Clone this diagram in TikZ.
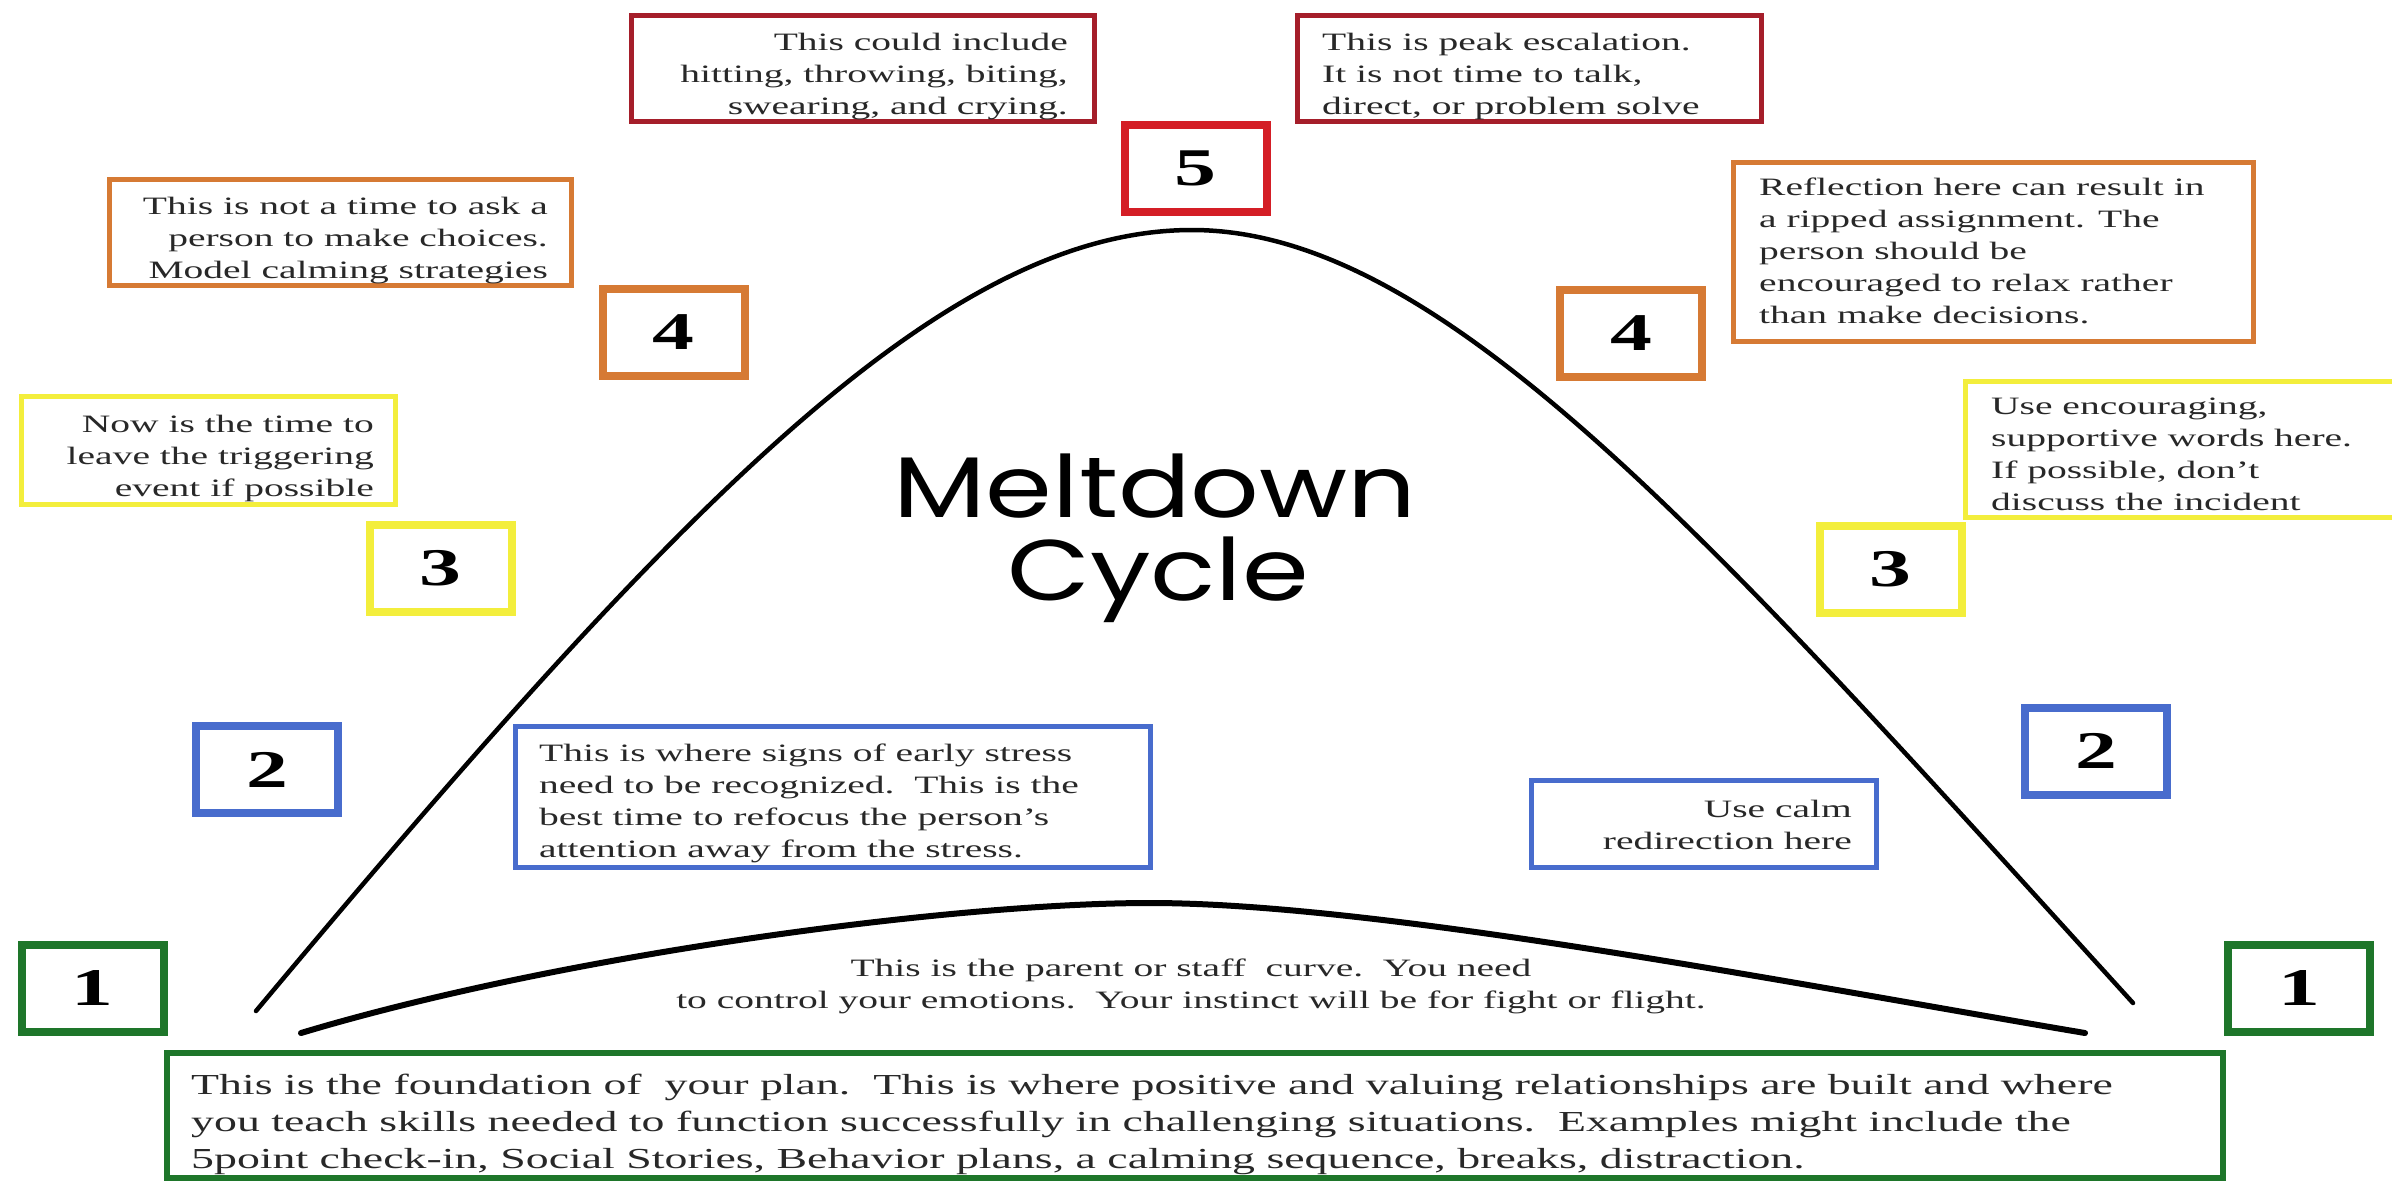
\documentclass[tikz,border=0pt]{standalone}
\usepackage{fontspec}
\setmainfont[FakeStretch=1.58]{Liberation Serif}
\newfontfamily\meltfont[FakeStretch=1.25]{Poppins}
\definecolor{cRed}{RGB}{165,30,42}
\definecolor{cRedB}{RGB}{212,30,38}
\definecolor{cOrange}{RGB}{214,122,52}
\definecolor{cYellow}{RGB}{243,238,60}
\definecolor{cBlue}{RGB}{72,108,205}
\definecolor{cGreen}{RGB}{30,118,42}
\definecolor{cText}{RGB}{40,40,40}
\tikzset{
  numbox/.style={draw=#1, line width=8pt, inner sep=0pt, minimum width=142pt,
    minimum height=87pt, font=\bfseries\fontsize{53}{53}\selectfont, text=black},
  txtbox/.style={draw=#1, line width=5.5pt, inner sep=0pt},
  note/.style={inner sep=0pt, text=cText, font=\fontsize{25}{32}\selectfont},
  bignote/.style={inner sep=0pt, text=cText, font=\fontsize{29}{37}\selectfont},
  melt/.style={inner sep=0pt, text=black, font=\meltfont\fontsize{86}{86}\selectfont},
  curve/.style={line width=4.5pt, line cap=round, black},
}
\begin{document}
\begin{tikzpicture}[x=1pt,y=-1pt]
\useasboundingbox (0,0) rectangle (2392,1181);
\fill[white] (0,0) rectangle (2392,1181);
\clip (0,0) rectangle (2392,1181);

% curves
\coordinate (bigL) at (256,1011);
\coordinate (bigTop) at (1192,230);
\coordinate (bigR) at (2133,1003);
\draw[curve] (bigL) .. controls (676,509) and (942,230) .. (bigTop)
  .. controls (1442,230) and (1713,541) .. (bigR);
\coordinate (smL) at (301,1033);
\coordinate (smTop) at (1150,903);
\coordinate (smR) at (2085,1033);
\draw[curve, line width=6pt] (smL) .. controls (560,955) and (950,903) .. (smTop)
  .. controls (1380,903) and (1800,985) .. (smR);

% title
\node[melt, anchor=base] (m1) at (1155,517) {Meltdown};
\node[melt, anchor=base] (m2) at (1158,600) {Cycle};

% number boxes
\node[numbox=cRedB]   (n5)  at (1195.5,168) {5};
\node[numbox=cOrange] (n4L) at (673.5,332.5) {4};
\node[numbox=cOrange] (n4R) at (1631,333) {4};
\node[numbox=cYellow] (n3L) at (440.5,568.5) {3};
\node[numbox=cYellow] (n3R) at (1890.5,569.5) {3};
\node[numbox=cBlue]   (n2L) at (267,769.5) {2};
\node[numbox=cBlue]   (n2R) at (2096,751) {2};
\node[numbox=cGreen]  (n1L) at (92.5,988) {1};
\node[numbox=cGreen]  (n1R) at (2299,988) {1};

% text boxes
\node[txtbox=cRed, minimum width=463pt, minimum height=106pt] (bRL) at (863,68.5) {};
\node[txtbox=cRed, minimum width=464pt, minimum height=106pt] (bRR) at (1529.5,68.5) {};
\node[txtbox=cOrange, minimum width=462pt, minimum height=106pt] (bOL) at (340.5,232.5) {};
\node[txtbox=cOrange, minimum width=520pt, minimum height=179pt] (bOR) at (1993.5,252) {};
\node[txtbox=cYellow, minimum width=374pt, minimum height=108pt] (bYL) at (208.5,450.5) {};
\node[txtbox=cYellow, minimum width=432pt, minimum height=136pt] (bYR) at (2181.5,449.5) {};
\node[txtbox=cBlue, minimum width=635pt, minimum height=141pt] (bBL) at (833,797) {};
\node[txtbox=cBlue, minimum width=345pt, minimum height=87pt] (bBR) at (1704,824) {};
\node[txtbox=cGreen, line width=6pt, minimum width=2056pt, minimum height=125pt] (bG) at (1195,1115.5) {};

% texts
\node[note, align=right, anchor=north east] (tRL) at (1068,32.7)
  {This could include\\hitting, throwing, biting,\\swearing, and crying.};
\node[note, align=left, anchor=north west] (tRR) at (1322,32.7)
  {This is peak escalation.\\It is not time to talk,\\direct, or problem solve};
\node[note, align=right, anchor=north east] (tOL) at (548,196.7)
  {This is not a time to ask a\\person to make choices.\\Model calming strategies};
\node[note, align=left, anchor=north west] (tOR) at (1759,177.7)
  {Reflection here can result in\\a ripped assignment. The\\person should be\\encouraged to relax rather\\than make decisions.};
\node[note, align=right, anchor=north east] (tYL) at (374,414.7)
  {Now is the time to\\leave the triggering\\event if possible};
\node[note, align=left, anchor=north west] (tYR) at (1991,397.7)
  {Use encouraging,\\supportive words here.\\If possible, don’t\\discuss the incident};
\node[note, align=left, anchor=north west] (tBL) at (539,743.7)
  {This is where signs of early stress\\need to be recognized.\ \ This is the\\best time to refocus the person’s\\attention away from the stress.};
\node[note, align=right, anchor=north east] (tBR) at (1852,799.7)
  {Use calm\\redirection here};
\node[note, align=center, anchor=north] (tC) at (1191,958.7)
  {This is the parent or staff\ \ curve.\ \ You need\\to control your emotions.\ \ Your instinct will be for fight or flight.};
\node[bignote, align=left, anchor=north west] (tG) at (191,1074)
  {This is the foundation of\ \ your plan.\ \ This is where positive and valuing relationships are built and where\\you teach skills needed to function successfully in challenging situations.\ \ Examples might include the\\5point check-in, Social Stories, Behavior plans, a calming sequence, breaks, distraction.};
\end{tikzpicture}
\end{document}
